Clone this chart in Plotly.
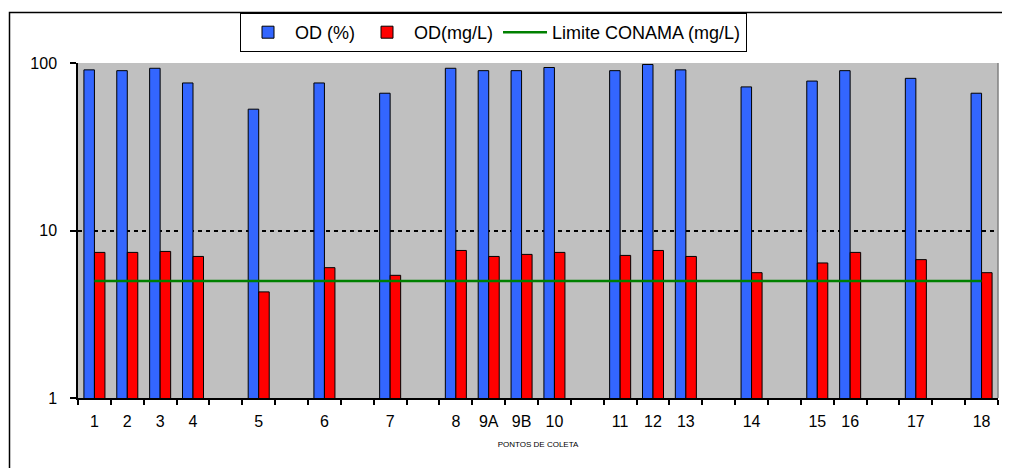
import plotly.graph_objects as go

# Collection points and the axis slots (blank slots keep Excel's spacing)
points = ["1", "2", "3", "4", "5", "6", "7", "8", "9A", "9B", "10",
          "11", "12", "13", "14", "15", "16", "17", "18"]
axis_slots = ["1", "2", "3", "4", "", "5", "", "6", "", "7", "", "8", "9A", "9B", "10", "",
              "11", "12", "13", "", "14", "", "15", "16", "", "17", "", "18"]
od_pct = [91, 90, 93, 76, 53, 76, 66, 93, 90, 90, 94, 90, 98, 91, 72, 78, 90, 81, 66]
od_mgl = [7.4, 7.4, 7.5, 7.0, 4.3, 6.0, 5.4, 7.6, 7.0, 7.2, 7.4, 7.1, 7.6, 7.0, 5.6, 6.4, 7.4, 6.7, 5.6]
limite_conama = 5
y_ticks = [1, 10, 100]

x_pos = [axis_slots.index(p) for p in points]
slot_idx = list(range(len(axis_slots)))
boundaries = [i - 0.5 for i in range(len(axis_slots) + 1)]

FONT = "Liberation Sans, Arial, sans-serif"

fig = go.Figure()
fig.add_trace(go.Bar(x=x_pos, y=od_pct, name="OD (%)",
                     marker=dict(color="#3366FF", line=dict(color="black", width=1))))
fig.add_trace(go.Bar(x=x_pos, y=od_mgl, name="OD(mg/L)",
                     marker=dict(color="#FF0000", line=dict(color="black", width=1))))
fig.add_trace(go.Scatter(x=[x_pos[0], x_pos[-1]], y=[limite_conama, limite_conama],
                         mode="lines", name="Limite CONAMA (mg/L)",
                         line=dict(color="#008000", width=2.5)))

OFF = 8  # page body margin
W, H = 1010, 468
pw, ph = 920, 335
ml, mt = 78 - OFF, 63 - OFF
mr, mb = W - ml - pw, H - mt - ph

def px_x(p):
    return (p - OFF - ml) / pw

def px_y(p):
    return (OFF + mt + ph - p) / ph

fig.update_layout(
    width=W, height=H,
    margin=dict(l=ml, r=mr, t=mt, b=mb, autoexpand=False),
    paper_bgcolor="white",
    plot_bgcolor="#C0C0C0",
    barmode="group", bargap=0.36, bargroupgap=0,
    font=dict(family=FONT, color="black", size=16),
    legend=dict(orientation="h", x=px_x(240), y=px_y(13), xanchor="left", yanchor="top",
                bgcolor="white", bordercolor="black", borderwidth=1,
                font=dict(size=18, family=FONT), traceorder="normal",
                itemwidth=44),
    xaxis=dict(
        range=[-0.5, len(axis_slots) - 0.5],
        tickmode="array", tickvals=slot_idx, ticktext=axis_slots,
        ticks="", ticklabelstandoff=8,
        tickfont=dict(size=16),
        showgrid=False, zeroline=False,
        showline=True, linecolor="black", linewidth=1.5,
        minor=dict(tickmode="array", tickvals=boundaries, ticks="outside",
                   ticklen=5, tickcolor="black", tickwidth=1.5, showgrid=False),
        title=dict(text="PONTOS DE COLETA", font=dict(size=8), standoff=12),
    ),
    yaxis=dict(
        type="log", range=[0, 2],
        tickmode="array", tickvals=y_ticks, ticktext=[str(v) for v in y_ticks],
        ticks="outside", ticklen=6, tickcolor="black", tickwidth=1.5,
        ticklabelstandoff=10,
        tickfont=dict(size=16),
        showgrid=True, gridcolor="black", gridwidth=2, griddash="4px,4px",
        zeroline=False,
        showline=True, linecolor="black", linewidth=1.5,
    ),
    shapes=[
        dict(type="line", xref="paper", yref="paper", x0=1, x1=1, y0=0, y1=1,
             line=dict(color="#808080", width=1.5)),
        dict(type="rect", xref="paper", yref="paper",
             x0=px_x(9.5), x1=px_x(1030), y0=px_y(490), y1=px_y(12.5),
             line=dict(color="black", width=1.5), fillcolor="rgba(0,0,0,0)", layer="below"),
    ],
)

fig.write_html("out.html")
